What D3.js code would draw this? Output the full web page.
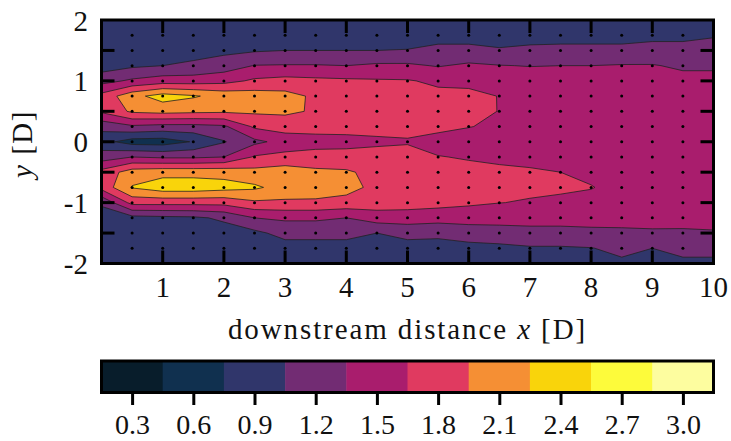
<!DOCTYPE html>
<html>
<head>
<meta charset="utf-8">
<script src="https://cdn.jsdelivr.net/npm/d3@7"></script>
<style>
  html, body { margin: 0; padding: 0; background: #fff; }
  svg text { font-family: "Liberation Serif", "Times New Roman", serif; fill: #111; }
</style>
</head>
<body>
<svg id="chart" width="731" height="441"></svg>
<script>
// grid of the field (x downstream, y from top to bottom)
const gridX = [0, 0.5, 1, 1.5, 2, 2.5, 3, 3.5, 4, 4.5, 5, 5.5, 6, 6.5, 7, 7.5, 8, 8.5, 9, 9.5, 10];
const gridY = [2, 1.75, 1.5, 1.25, 1, 0.75, 0.5, 0.25, 0, -0.25, -0.5, -0.75, -1, -1.25, -1.5, -1.75, -2];

// one column per gridX entry, values from y=2 down to y=-2
const field = [
  [0.85, 0.87, 0.88, 0.90, 1.25, 1.75, 1.70, 1.15, 0.85, 1.20, 1.75, 1.75, 1.10, 0.90, 0.88, 0.87, 0.85],
  [0.88, 0.90, 0.93, 1.00, 1.40, 2.15, 2.00, 1.30, 0.62, 1.35, 2.10, 2.27, 1.75, 0.95, 0.90, 0.88, 0.87],
  [0.88, 0.90, 0.92, 1.05, 1.50, 2.38, 2.05, 1.25, 0.60, 1.30, 2.15, 2.42, 1.75, 0.98, 0.90, 0.88, 0.87],
  [0.88, 0.90, 0.95, 1.10, 1.50, 2.28, 2.02, 1.25, 0.77, 1.30, 2.15, 2.42, 1.75, 1.00, 0.90, 0.88, 0.87],
  [0.88, 0.92, 0.98, 1.20, 1.55, 2.15, 2.00, 1.30, 1.03, 1.35, 2.15, 2.36, 1.75, 1.10, 0.92, 0.90, 0.88],
  [0.88, 0.92, 1.02, 1.36, 1.70, 2.10, 2.00, 1.70, 1.28, 1.68, 2.05, 2.30, 1.90, 1.35, 0.98, 0.90, 0.88],
  [0.88, 0.93, 1.05, 1.37, 1.75, 2.05, 2.00, 1.80, 1.45, 1.75, 2.10, 2.13, 1.90, 1.40, 1.15, 0.92, 0.88],
  [0.88, 0.93, 1.05, 1.37, 1.72, 1.90, 1.92, 1.80, 1.50, 1.80, 2.00, 2.10, 1.90, 1.40, 1.15, 0.92, 0.88],
  [0.88, 0.93, 1.05, 1.35, 1.70, 1.85, 1.85, 1.80, 1.52, 1.80, 1.98, 2.05, 1.85, 1.35, 1.15, 0.92, 0.88],
  [0.88, 0.93, 1.05, 1.40, 1.68, 1.80, 1.80, 1.78, 1.58, 1.80, 1.88, 1.87, 1.80, 1.50, 1.05, 0.90, 0.88],
  [0.88, 0.93, 1.06, 1.40, 1.67, 1.75, 1.78, 1.75, 1.62, 1.78, 1.80, 1.80, 1.78, 1.50, 1.15, 0.92, 0.88],
  [0.88, 0.95, 1.12, 1.33, 1.60, 1.72, 1.75, 1.72, 1.55, 1.66, 1.76, 1.78, 1.75, 1.47, 1.12, 0.93, 0.88],
  [0.88, 0.95, 1.12, 1.40, 1.60, 1.70, 1.72, 1.66, 1.52, 1.63, 1.72, 1.75, 1.70, 1.47, 1.20, 0.95, 0.88],
  [0.88, 0.96, 1.07, 1.36, 1.55, 1.645, 1.644, 1.60, 1.50, 1.60, 1.70, 1.72, 1.655, 1.47, 1.22, 0.98, 0.88],
  [0.88, 0.98, 1.09, 1.34, 1.50, 1.58, 1.58, 1.55, 1.50, 1.58, 1.68, 1.70, 1.63, 1.47, 1.25, 1.02, 0.88],
  [0.88, 0.98, 1.10, 1.35, 1.48, 1.55, 1.55, 1.52, 1.48, 1.55, 1.65, 1.69, 1.60, 1.47, 1.25, 1.02, 0.88],
  [0.88, 0.98, 1.10, 1.35, 1.47, 1.52, 1.52, 1.50, 1.47, 1.52, 1.60, 1.66, 1.58, 1.48, 1.27, 1.04, 0.88],
  [0.88, 0.98, 1.10, 1.37, 1.47, 1.50, 1.50, 1.48, 1.46, 1.50, 1.55, 1.58, 1.55, 1.48, 1.28, 1.12, 1.00],
  [0.88, 1.00, 1.12, 1.37, 1.47, 1.50, 1.50, 1.48, 1.46, 1.50, 1.53, 1.55, 1.53, 1.48, 1.30, 1.05, 0.95],
  [0.90, 1.00, 1.12, 1.30, 1.45, 1.50, 1.50, 1.48, 1.46, 1.50, 1.52, 1.53, 1.52, 1.47, 1.30, 1.12, 1.00],
  [0.95, 1.03, 1.15, 1.30, 1.45, 1.50, 1.50, 1.48, 1.46, 1.50, 1.52, 1.53, 1.52, 1.47, 1.32, 1.12, 1.00]
];

// measurement positions (black dots)
const probeX = [0.5, 1, 1.5, 2, 2.5, 3, 3.5, 4, 4.5, 5, 5.5, 6, 6.5, 7, 7.5, 8, 8.5, 9, 9.5];
const probeY = [1.75, 1.5, 1.25, 1, 0.75, 0.5, 0.25, 0, -0.25, -0.5, -0.75, -1, -1.25, -1.5, -1.75];

// contour levels and colorbar
const levels = [0.15, 0.45, 0.75, 1.05, 1.35, 1.65, 1.95, 2.25, 2.55, 2.85];
const levelTop = 3.15;
const levelColors = ["#081d2b", "#10304f", "#30366b", "#722c73", "#a91d6d",
                     "#e03a60", "#f58f34", "#f9d40b", "#fdfb3b", "#fdfd9f"];
const levelTicks = [0.3, 0.6, 0.9, 1.2, 1.5, 1.8, 2.1, 2.4, 2.7, 3.0];

const xTicks = [1, 2, 3, 4, 5, 6, 7, 8, 9, 10];
const xInnerTicks = [1, 2, 3, 4, 5, 6, 7, 8, 9];
const yTicks = [2, 1, 0, -1, -2];
const yInnerTicks = [1.5, 1, 0.5, 0, -0.5, -1, -1.5];

const svg = d3.select("#chart");
const pL = 101.5, pR = 713.5, pT = 20, pB = 263.5;

const x = d3.scaleLinear().domain([0, 10]).range([pL, pR]);
const y = d3.scaleLinear().domain([-2, 2]).range([pB, pT]);

// --- contours ---
const nx = gridX.length, ny = gridY.length;
const flat = new Array(nx * ny);
for (let r = 0; r < ny; r++) {
  for (let c = 0; c < nx; c++) flat[r * nx + c] = field[c][r];
}
const contours = d3.contours().size([nx, ny]).thresholds(levels)(flat);

const stepX = gridX[1] - gridX[0];
const stepY = gridY[1] - gridY[0];
const toScreen = d3.geoTransform({
  point: function(px, py) {
    this.stream.point(x(gridX[0] + (px - 0.5) * stepX), y(gridY[0] + (py - 0.5) * stepY));
  }
});
const path = d3.geoPath(toScreen);

svg.append("clipPath").attr("id", "plotClip")
  .append("rect")
  .attr("x", pL).attr("y", pT)
  .attr("width", pR - pL).attr("height", pB - pT);

const plot = svg.append("g").attr("clip-path", "url(#plotClip)");

plot.append("rect")
  .attr("x", pL).attr("y", pT)
  .attr("width", pR - pL).attr("height", pB - pT)
  .attr("fill", levelColors[2]);

plot.selectAll("path.band")
  .data(contours)
  .join("path")
  .attr("class", "band")
  .attr("d", path)
  .attr("fill", (d, i) => levelColors[i])
  .attr("stroke", "#222")
  .attr("stroke-width", 0.8)
  .attr("stroke-linejoin", "round");

// measurement dots
const probes = [];
probeX.forEach(px => probeY.forEach(py => probes.push([px, py])));
plot.selectAll("circle.probe")
  .data(probes)
  .join("circle")
  .attr("class", "probe")
  .attr("cx", d => x(d[0]))
  .attr("cy", d => y(d[1]))
  .attr("r", 1.5)
  .attr("fill", "#000");

// inner ticks
const tickLen = 13;
const ticks = svg.append("g").attr("stroke", "#000").attr("stroke-width", 3);
xInnerTicks.forEach(v => {
  ticks.append("line").attr("x1", x(v)).attr("x2", x(v)).attr("y1", pT).attr("y2", pT + tickLen);
  ticks.append("line").attr("x1", x(v)).attr("x2", x(v)).attr("y1", pB).attr("y2", pB - tickLen);
});
yInnerTicks.forEach(v => {
  ticks.append("line").attr("y1", y(v)).attr("y2", y(v)).attr("x1", pL).attr("x2", pL + tickLen);
  ticks.append("line").attr("y1", y(v)).attr("y2", y(v)).attr("x1", pR).attr("x2", pR - tickLen);
});

// frame
svg.append("rect")
  .attr("x", pL).attr("y", pT)
  .attr("width", pR - pL).attr("height", pB - pT)
  .attr("fill", "none").attr("stroke", "#000").attr("stroke-width", 3);

// tick labels
const fs = 29;
svg.selectAll("text.xt")
  .data(xTicks)
  .join("text")
  .attr("class", "xt")
  .attr("x", d => x(d))
  .attr("y", 297)
  .attr("text-anchor", "middle")
  .attr("font-size", fs)
  .text(d => d);

svg.selectAll("text.yt")
  .data(yTicks)
  .join("text")
  .attr("class", "yt")
  .attr("x", 88)
  .attr("y", d => y(d) + 10.5)
  .attr("text-anchor", "end")
  .attr("font-size", fs)
  .text(d => d);

// axis titles
const xTitle = svg.append("text")
  .attr("x", (pL + pR) / 2)
  .attr("y", 339)
  .attr("text-anchor", "middle")
  .attr("font-size", fs)
  .attr("letter-spacing", 1.9);
xTitle.append("tspan").text("downstream distance ");
xTitle.append("tspan").attr("font-style", "italic").text("x");
xTitle.append("tspan").text(" [D]");

const yTitle = svg.append("text")
  .attr("transform", "translate(32,144) rotate(-90)")
  .attr("text-anchor", "middle")
  .attr("font-size", fs)
  .attr("letter-spacing", 1.5);
yTitle.append("tspan").attr("font-style", "italic").text("y");
yTitle.append("tspan").text(" [D]");

// --- colorbar ---
const cbTop = 361, cbBottom = 392.5;
const cb = d3.scaleLinear().domain([levels[0], levelTop]).range([pL, pR]);
const edges = levels.concat([levelTop]);

svg.selectAll("rect.cbin")
  .data(levels)
  .join("rect")
  .attr("class", "cbin")
  .attr("x", (d, i) => cb(d))
  .attr("y", cbTop)
  .attr("width", (d, i) => cb(edges[i + 1]) - cb(d) + 0.5)
  .attr("height", cbBottom - cbTop)
  .attr("fill", (d, i) => levelColors[i]);

svg.append("rect")
  .attr("x", pL).attr("y", cbTop)
  .attr("width", pR - pL).attr("height", cbBottom - cbTop)
  .attr("fill", "none").attr("stroke", "#000").attr("stroke-width", 3);

const cbAxis = svg.append("g")
  .attr("transform", `translate(0,${cbBottom + 1.5})`)
  .call(d3.axisBottom(cb).tickValues(levelTicks).tickSize(11).tickSizeOuter(0)
    .tickFormat(d3.format(".1f")).tickPadding(20));
cbAxis.attr("font-family", null).attr("font-size", null);
cbAxis.select(".domain").remove();
cbAxis.selectAll(".tick line").attr("stroke", "#000").attr("stroke-width", 3);
cbAxis.selectAll(".tick text")
  .attr("font-size", 28)
  .attr("fill", "#111")
  .attr("dy", null)
  .attr("y", 434 - cbBottom - 1.5);
</script>
</body>
</html>
